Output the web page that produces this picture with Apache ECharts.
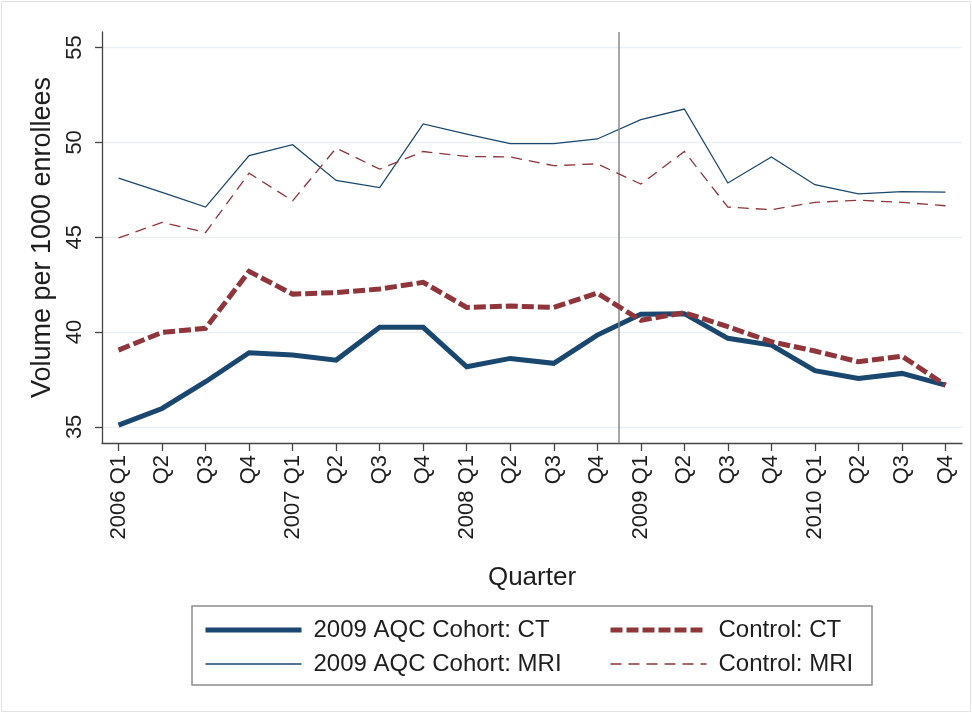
<!DOCTYPE html>
<html>
<head>
<meta charset="utf-8">
<title>Imaging volume per 1000 enrollees by quarter</title>
<script src="https://cdn.jsdelivr.net/npm/echarts@6/dist/echarts.min.js"></script>
<style>
  html, body { margin: 0; padding: 0; background: #fff; }
  #chart { width: 972px; height: 713px; }
</style>
</head>
<body>
<div id="chart"></div>
<script>
// Quarter tick labels (one per quarter, 2006 Q1 .. 2010 Q4)
const quarterLabels = [
  '2006 Q1', 'Q2', 'Q3', 'Q4',
  '2007 Q1', 'Q2', 'Q3', 'Q4',
  '2008 Q1', 'Q2', 'Q3', 'Q4',
  '2009 Q1', 'Q2', 'Q3', 'Q4',
  '2010 Q1', 'Q2', 'Q3', 'Q4'
];

// Volume per 1000 enrollees
const aqcCT = [35.09, 35.97, 37.38, 38.91, 38.79, 38.52, 40.25, 40.25, 38.17, 38.61,
               38.35, 39.84, 40.94, 40.97, 39.67, 39.31, 37.96, 37.55, 37.82, 37.20];
const controlCT = [39.05, 39.98, 40.20, 43.20, 42.00, 42.08, 42.27, 42.62, 41.30, 41.37,
                   41.30, 42.05, 40.62, 41.02, 40.28, 39.49, 39.00, 38.43, 38.73, 37.20];
const aqcMRI = [48.12, 47.36, 46.59, 49.30, 49.88, 47.99, 47.62, 50.97, 50.44, 49.93,
                49.93, 50.18, 51.20, 51.76, 47.86, 49.23, 47.77, 47.29, 47.40, 47.38];
const controlMRI = [44.96, 45.78, 45.25, 48.38, 46.92, 49.70, 48.59, 49.52, 49.26, 49.23,
                    48.77, 48.87, 47.80, 49.52, 46.59, 46.45, 46.84, 46.95, 46.84, 46.66];

// Y axis tick values
const yTicks = [35, 40, 45, 50, 55];
// Program start falls between 2008 Q4 and 2009 Q1
const programStart = 11.5;

const NAVY = '#1a476f';
const MAROON = '#90353b';
const FONT = 'Liberation Sans, Arial, sans-serif';
const TEXT = '#1e1e1e';

const xIdx = quarterLabels.map((_, i) => i);
const pairs = arr => arr.map((v, i) => [i, v]);

const chart = echarts.init(document.getElementById('chart'), null, { renderer: 'canvas' });

const seriesDefs = [
  { name: '2009 AQC Cohort: CT', data: aqcCT, color: NAVY, width: 5, type: 'solid' },
  { name: '2009 AQC Cohort: MRI', data: aqcMRI, color: NAVY, width: 1.3, type: 'solid' },
  { name: 'Control: CT', data: controlCT, color: MAROON, width: 5, type: [12, 4] },
  { name: 'Control: MRI', data: controlMRI, color: MAROON, width: 1.3, type: [11, 7] }
];

const series = seriesDefs.map((s, k) => ({
  name: s.name,
  type: 'line',
  data: pairs(s.data),
  symbol: 'none',
  smooth: false,
  z: 3 + k,
  lineStyle: { color: s.color, width: s.width, type: s.type, cap: 'butt', join: 'miter' },
  itemStyle: { color: s.color },
  animation: false,
  markLine: k === 0 ? {
    silent: true,
    symbol: 'none',
    label: { show: false },
    lineStyle: { color: '#8a8a8a', width: 1.5, type: 'solid' },
    data: [{ xAxis: programStart }]
  } : undefined
}));

// Legend keys: line only, no point marker
const legendItem = s => ({
  name: s.name,
  lineStyle: { color: s.color, width: s.width, type: s.type, cap: 'butt' },
  itemStyle: { opacity: 0 }
});

const legendCommon = {
  show: true,
  orient: 'vertical',
  top: 613,
  itemWidth: 96,
  itemHeight: 24,
  itemGap: 10,
  selectedMode: false,
  textStyle: { fontFamily: FONT, fontSize: 24, color: TEXT, padding: [0, 0, 0, 7] }
};

chart.setOption({
  animation: false,
  backgroundColor: '#ffffff',
  grid: { left: 102, right: 10, top: 32, bottom: 270, containLabel: false },
  xAxis: {
    type: 'value',
    min: -0.38,
    max: 19.38,
    name: 'Quarter',
    nameLocation: 'middle',
    nameGap: 122,
    nameTextStyle: { fontFamily: FONT, fontSize: 26, color: TEXT },
    axisLine: { show: true, onZero: false, lineStyle: { color: '#444', width: 1.3 } },
    axisTick: { show: true, customValues: xIdx, length: 8, lineStyle: { color: '#444', width: 1.3 } },
    axisLabel: {
      customValues: xIdx,
      rotate: 90,
      margin: 12,
      fontFamily: FONT,
      fontSize: 22,
      color: TEXT,
      formatter: v => quarterLabels[Math.round(v)]
    },
    splitLine: { show: false }
  },
  yAxis: {
    type: 'value',
    min: 34.15,
    max: 55.82,
    name: 'Volume per 1000 enrollees',
    nameLocation: 'middle',
    nameRotate: 90,
    nameGap: 46,
    nameTextStyle: { fontFamily: FONT, fontSize: 27, color: TEXT },
    axisLine: { show: true, onZero: false, lineStyle: { color: '#444', width: 1.3 } },
    axisTick: { show: true, customValues: yTicks, length: 7, lineStyle: { color: '#444', width: 1.3 } },
    axisLabel: {
      customValues: yTicks,
      rotate: 90,
      margin: 16,
      fontFamily: FONT,
      fontSize: 22,
      color: TEXT
    },
    splitLine: { show: true, lineStyle: { color: '#eaf0f4', width: 1.3 } }
  },
  legend: [
    Object.assign({}, legendCommon, {
      id: 'legendCohort',
      left: 198,
      data: [legendItem(seriesDefs[0]), legendItem(seriesDefs[1])]
    }),
    Object.assign({}, legendCommon, {
      id: 'legendControl',
      left: 603,
      data: [legendItem(seriesDefs[2]), legendItem(seriesDefs[3])]
    })
  ],
  graphic: [
    {
      type: 'rect',
      silent: true,
      shape: { x: 1.5, y: 1.5, width: 969, height: 710 },
      style: { fill: 'none', stroke: '#e2e2e2', lineWidth: 1 }
    },
    {
      type: 'rect',
      silent: true,
      shape: { x: 192, y: 606, width: 680, height: 79 },
      style: { fill: 'none', stroke: '#8c8c8c', lineWidth: 1.5 }
    }
  ],
  series: series
});
</script>
</body>
</html>
